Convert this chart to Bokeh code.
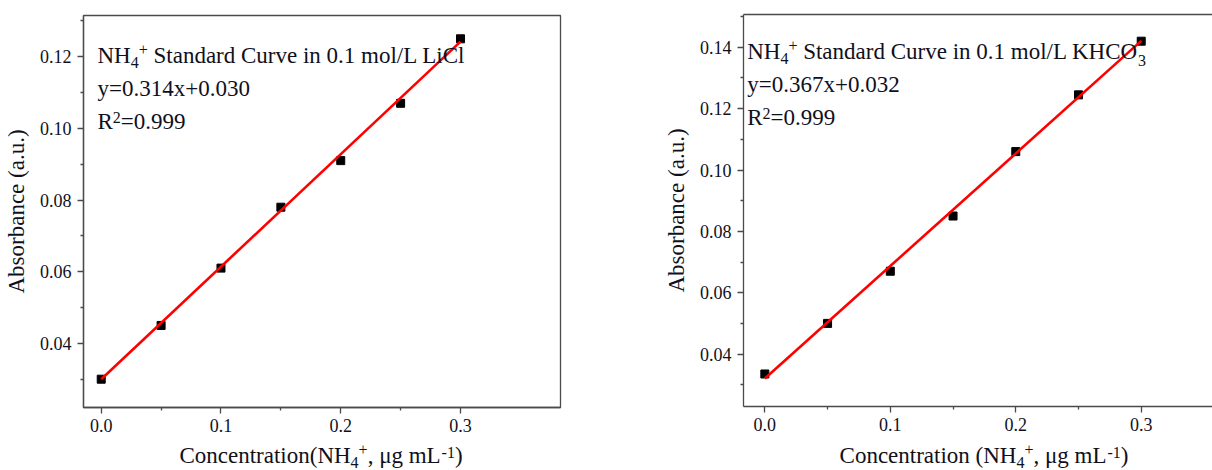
from bokeh.plotting import figure
from bokeh.models import Label, FixedTicker, PrintfTickFormatter, LinearAxis, Range1d
from bokeh.layouts import row, column
from bokeh.embed import file_html
from bokeh.resources import INLINE

# ---------------- data ----------------
conc = [0.0, 0.05, 0.10, 0.15, 0.20, 0.25, 0.30]
abs_licl = [0.030, 0.045, 0.061, 0.078, 0.091, 0.107, 0.125]
abs_khco3 = [0.0335, 0.050, 0.067, 0.085, 0.106, 0.1245, 0.142]
slope_licl, icpt_licl = 0.314, 0.030
slope_khco3, icpt_khco3 = 0.367, 0.032
x_ticks = [0.0, 0.1, 0.2, 0.3]
x_minor = [0.05, 0.15, 0.25]
y_ticks_licl = [0.04, 0.06, 0.08, 0.10, 0.12]
y_minor_licl = [0.03, 0.05, 0.07, 0.09, 0.11, 0.13]
y_ticks_khco3 = [0.04, 0.06, 0.08, 0.10, 0.12, 0.14]
y_minor_khco3 = [0.03, 0.05, 0.07, 0.09, 0.11, 0.13, 0.15]

FONT = "Liberation Serif"
TXT = "#10101c"
AX = "#4a4a4a"
BIG = 23
SMALL = 16
BASE_FIX = 0.37  # empirical em-shift of Label's alphabetic anchoring
MAIN_H = 440     # height of the chart figures; the x-axis titles go in a strip below

# Times / Liberation Serif advance widths (1/1000 em)
W = {' ': 250, '(': 333, ')': 333, '+': 564, ',': 250, '-': 333, '.': 250, '/': 278,
     '=': 564, 'A': 722, 'C': 667, 'H': 722, 'K': 722, 'L': 611, 'N': 722, 'O': 722,
     'R': 667, 'S': 556, 'a': 444, 'b': 500, 'c': 444, 'd': 500, 'e': 444, 'g': 500,
     'i': 278, 'l': 278, 'm': 778, 'n': 500, 'o': 500, 'r': 333, 's': 389, 't': 278,
     'u': 500, 'v': 500, 'x': 500, 'y': 500, 'μ': 576}
for d in "0123456789":
    W[d] = 500


def piece_w(text, size):
    return sum(W.get(c, 500) for c in text) / 1000.0 * size


def rich_width(pieces):
    return sum(piece_w(t, BIG if s == 0 else SMALL) for t, s in pieces)


def rich(p, pieces, x, y, fl, fb):
    """x, y: canvas coords (within figure) of baseline start; fl, fb: frame left/bottom."""
    cx = x
    for text, shift in pieces:
        sz = BIG if shift == 0 else SMALL
        lead = len(text) - len(text.lstrip(' '))
        trail = len(text) - len(text.rstrip(' '))
        core = text.strip(' ')
        cx += piece_w(' ' * lead, sz)
        base = y - shift - BASE_FIX * sz
        p.add_layout(Label(x=cx - fl, y=fb - base, x_units="screen", y_units="screen",
                           text=core, text_font=FONT, text_font_size=f"{sz}px",
                           text_color=TXT, text_baseline="alphabetic", text_align="left"))
        cx += piece_w(core, sz) + piece_w(' ' * trail, sz)


def make_fig(fl, ft, fh, width, xr, yr, yt, ym, outline=True):
    p = figure(width=width, height=MAIN_H, min_border_left=fl, min_border_top=ft,
               min_border_right=width - fl - (477 if outline else 469),
               min_border_bottom=MAIN_H - ft - fh,
               x_range=Range1d(*xr), y_range=Range1d(*yr),
               output_backend="svg", toolbar_location=None,
               background_fill_color="white", border_fill_color="white")
    p.xgrid.visible = False
    p.ygrid.visible = False
    p.outline_line_color = AX if outline else None
    p.outline_line_width = 1.3
    for ax in (p.xaxis[0], p.yaxis[0]):
        ax.axis_line_color = AX
        ax.axis_line_width = 1.3
        ax.major_tick_line_color = AX
        ax.minor_tick_line_color = AX
        ax.major_tick_line_width = 1.3
        ax.minor_tick_line_width = 1.3
        ax.major_tick_in = 0
        ax.major_tick_out = 6
        ax.minor_tick_in = 0
        ax.minor_tick_out = 3
        ax.major_label_text_font = FONT
        ax.major_label_text_font_size = "18px"
        ax.major_label_text_color = TXT
        ax.major_label_standoff = 6
    p.xaxis[0].major_label_standoff = 5
    p.xaxis[0].ticker = FixedTicker(ticks=x_ticks, minor_ticks=x_minor)
    p.xaxis[0].formatter = PrintfTickFormatter(format="%.1f")
    p.yaxis[0].ticker = FixedTicker(ticks=yt, minor_ticks=ym)
    p.yaxis[0].formatter = PrintfTickFormatter(format="%.2f")
    p.yaxis[0].axis_label = "Absorbance (a.u.)"
    p.yaxis[0].axis_label_text_font = FONT
    p.yaxis[0].axis_label_text_font_size = f"{BIG}px"
    p.yaxis[0].axis_label_text_font_style = "normal"
    p.yaxis[0].axis_label_text_color = TXT
    p.yaxis[0].axis_label_standoff = 8
    return p


def strip(width):
    s = figure(width=width, height=470 - MAIN_H, x_axis_type=None, y_axis_type=None,
               x_range=Range1d(0, 1), y_range=Range1d(0, 1), min_border=0,
               output_backend="svg", toolbar_location=None,
               background_fill_color="white", border_fill_color="white")
    s.outline_line_color = None
    s.xgrid.visible = False
    s.ygrid.visible = False
    return s


def draw(p, ys, slope, icpt):
    p.scatter(conc, ys, marker="square", size=8, color="black")
    xs = [min(conc), max(conc)]
    p.line(xs, [slope * v + icpt for v in xs], line_color="#ff0000", line_width=2.6)


SH = 470 - MAIN_H

# ---------------- left plot ----------------
p1 = make_fig(83, 15, 392, 600, (-0.0148, 0.3835), (0.0221, 0.1315),
              y_ticks_licl, y_minor_licl)
draw(p1, abs_licl, slope_licl, icpt_licl)
fb1 = 15 + 392
rich(p1, [("NH", 0), ("4", -4), ("+", 9), (" Standard Curve in 0.1 mol/L LiCl", 0)], 97, 64, 83, fb1)
rich(p1, [("y=0.314x+0.030", 0)], 97, 97, 83, fb1)
rich(p1, [("R", 0), ("2", 7), ("=0.999", 0)], 97, 129.5, 83, fb1)
s1 = strip(600)
xl1 = [("Concentration(NH", 0), ("4", -4), ("+", 9), (", μg mL", 0), ("-1", 6), (")", 0)]
# the strip's frame is aligned with the chart frame above it (left edge at 83)
rich(s1, xl1, 320.5 - rich_width(xl1) / 2, 464 - MAIN_H, 83, SH)

# ---------------- right plot ----------------
p2 = make_fig(143, 14, 392, 612, (-0.017, 0.3568), (0.0229, 0.1507),
              y_ticks_khco3, y_minor_khco3, outline=False)
top = LinearAxis(ticker=FixedTicker(ticks=[]), axis_line_color=AX, axis_line_width=1.3,
                 major_tick_line_color=None, minor_tick_line_color=None,
                 major_tick_out=0, minor_tick_out=0, major_label_text_font_size="0px",
                 major_label_standoff=0)
p2.add_layout(top, "above")
draw(p2, abs_khco3, slope_khco3, icpt_khco3)
fb2 = 14 + 392
rich(p2, [("NH", 0), ("4", -4), ("+", 9), (" Standard Curve in 0.1 mol/L KHCO", 0), ("3", -6)], 146.7, 60, 143, fb2)
rich(p2, [("y=0.367x+0.032", 0)], 146.7, 93, 143, fb2)
rich(p2, [("R", 0), ("2", 7), ("=0.999", 0)], 146.7, 126, 143, fb2)
s2 = strip(612)
xl2 = [("Concentration (NH", 0), ("4", -4), ("+", 9), (", μg mL", 0), ("-1", 6), (")", 0)]
rich(s2, xl2, 383.5 - rich_width(xl2) / 2, 463.5 - MAIN_H, 143, SH)

layout = row(column(p1, s1), column(p2, s2))
open("out.html", "w").write(file_html(layout, INLINE))
